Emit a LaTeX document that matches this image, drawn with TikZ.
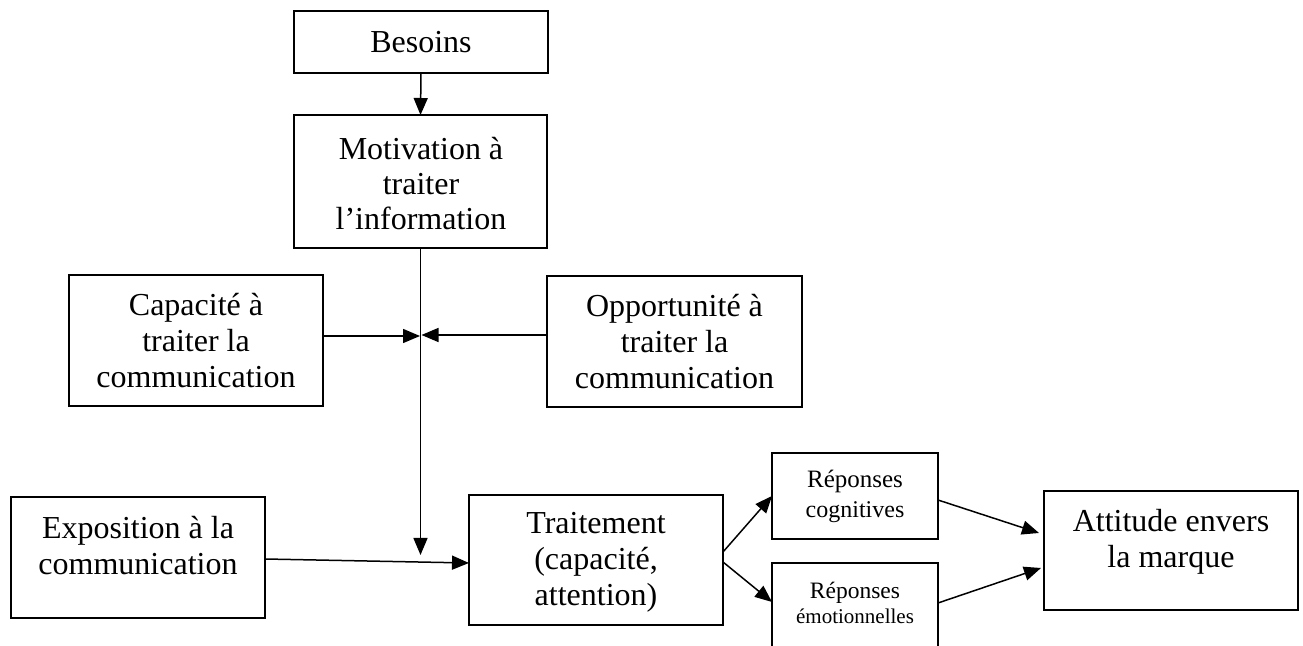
\documentclass[tikz,border=0pt]{standalone}
\usepackage{fontspec}
\setmainfont{Liberation Serif}
\usetikzlibrary{arrows.meta}
\begin{document}
\begin{tikzpicture}[x=0.5pt,y=-0.5pt,
  box/.style={draw, line width=1.35pt, inner sep=0pt, outer sep=0pt, fill=none},
  lbl/.style={align=center, inner sep=0pt, font=\fontsize{16}{18}\selectfont},
  arr/.style={line width=0.75pt, -{Triangle[length=8.5pt,width=7pt]}}]
\clip (0,0) rectangle (1303,646);
\fill[white] (0,0) rectangle (1303,646);
% boxes
\node[box, minimum width=127pt, minimum height=31pt]   (besoins) at (421,42) {};
\node[box, minimum width=126.5pt, minimum height=66.5pt] (motiv) at (420.5,181.5) {};
\node[box, minimum width=127pt, minimum height=65.5pt] (capa) at (196,340.5) {};
\node[box, minimum width=127.5pt, minimum height=65.5pt] (oppo) at (674.5,341.5) {};
\node[box, minimum width=127pt, minimum height=60.5pt] (expo) at (138,557.5) {};
\node[box, minimum width=127pt, minimum height=65pt] (trait) at (596,560) {};
\node[box, minimum width=83pt, minimum height=43pt] (cog) at (855,496) {};
\node[box, minimum width=83pt, minimum height=51pt] (emo) at (855,614) {};
\node[box, minimum width=127pt, minimum height=59.5pt] (att) at (1171,550.5) {};
% texts
\node[lbl] (besoinsT) at (421,42.5) {Besoins};
\node[lbl, font=\fontsize{16}{17.5}\selectfont] (motivT) at (421,184) {Motivation à\\traiter\\l’information};
\node[lbl] (capaT) at (196,341) {Capacité à\\traiter la\\communication};
\node[lbl] (oppoT) at (674.5,342) {Opportunité à\\traiter la\\communication};
\node[lbl] (expoT) at (138,546) {Exposition à la\\communication};
\node[lbl] (traitT) at (596,562) {Traitement\\(capacité,\\attention)};
\node[lbl, font=\fontsize{12.5}{15}\selectfont] (cogT) at (855,496) {Réponses\\{\fontsize{12}{15}\selectfont cognitives}};
\node[lbl, font=\fontsize{11.75}{12.5}\selectfont] (emoT) at (855,603) {Réponses\\{\fontsize{10.5}{12.5}\selectfont émotionnelles}};
\node[lbl] (attT) at (1171,542) {Attitude envers\\la marque};
% connectors
\coordinate (jTip) at ([shift={(0,307)}]motiv.south);
\coordinate (capaTip) at (420,336);
\coordinate (oppoTip) at (421.5,335);
\draw[arr] (besoins.south) -- (motiv.north);
\draw[arr] (motiv.south) -- (jTip);
\draw[arr] ([shift={(0,-4.5)}]capa.east) -- (capaTip);
\draw[arr] ([shift={(0,-6.5)}]oppo.west) -- (oppoTip);
\draw[arr] ([shift={(0,1.5)}]expo.east) -- ([shift={(0,3)}]trait.west);
\draw[arr] ([shift={(0,-8)}]trait.east) -- (cog.west);
\draw[arr] ([shift={(0,2)}]trait.east) -- ([shift={(0,-12)}]emo.west);
\draw[arr] ([shift={(0,4)}]cog.east) -- ([shift={(-5,-17.5)}]att.west);
\draw[arr] ([shift={(0,-11)}]emo.east) -- ([shift={(-3,17.5)}]att.west);
\end{tikzpicture}
\end{document}
